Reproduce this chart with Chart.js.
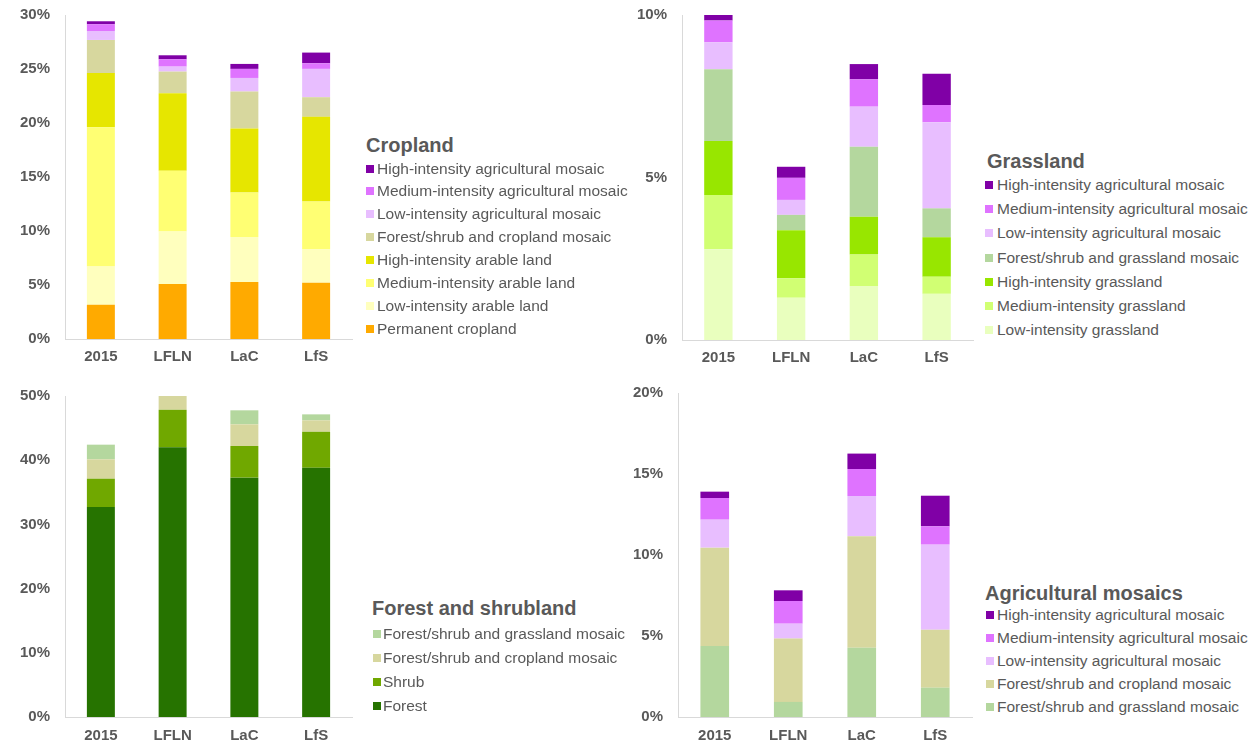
<!DOCTYPE html>
<html>
<head>
<meta charset="utf-8">
<script src="https://cdn.jsdelivr.net/npm/chart.js@4"></script>
<style>
  html, body { margin: 0; padding: 0; background: #ffffff; }
  #page { position: relative; width: 1254px; height: 744px; overflow: hidden; font-family: "Liberation Sans", Arial, sans-serif; }
  .panel { position: absolute; }
  .legend { position: absolute; color: #595959; }
  .legend .title { position: absolute; font-weight: bold; font-size: 20px; white-space: nowrap; line-height: 24px; }
  .legend .item { position: absolute; font-size: 15.5px; white-space: nowrap; line-height: 20px; }
  .legend .box { position: absolute; width: 8px; height: 8px; }
</style>
</head>
<body>
<div id="page">
  <canvas id="cropChart" class="panel" width="360" height="372" style="left:0;top:0;"></canvas>
  <canvas id="grassChart" class="panel" width="360" height="373" style="left:617px;top:0;"></canvas>
  <canvas id="forestChart" class="panel" width="360" height="364" style="left:0;top:380px;"></canvas>
  <canvas id="mosaicChart" class="panel" width="360" height="364" style="left:613px;top:380px;"></canvas>
  <div id="cropLegend" class="legend"></div>
  <div id="grassLegend" class="legend"></div>
  <div id="forestLegend" class="legend"></div>
  <div id="mosaicLegend" class="legend"></div>
</div>
<script>
// Scenario categories shared by all four panels
const categories = ['2015', 'LFLN', 'LaC', 'LfS'];

// Cropland shares (% of area), bottom to top of each stack
const cropPermanent      = [3.18, 5.09, 5.27, 5.21];
const cropLowArable      = [3.54, 4.87, 4.17, 3.12];
const cropMediumArable   = [12.89, 5.61, 4.13, 4.41];
const cropHighArable     = [5.03, 7.19, 5.92, 7.83];
const cropForestCropMos  = [3.05, 2.00, 3.42, 1.82];
const cropLowAgMosaic    = [0.83, 0.46, 1.26, 2.62];
const cropMediumAgMosaic = [0.62, 0.68, 0.84, 0.52];
const cropHighAgMosaic   = [0.28, 0.37, 0.46, 0.99];
const cropTicks = { max: 30, step: 5 };

// Grassland shares (%)
const grassLow            = [2.79, 1.30, 1.66, 1.42];
const grassMedium         = [1.67, 0.60, 0.97, 0.53];
const grassHigh           = [1.66, 1.48, 1.16, 1.21];
const grassForestGrassMos = [2.21, 0.47, 2.16, 0.89];
const grassLowAgMosaic    = [0.83, 0.46, 1.23, 2.65];
const grassMediumAgMosaic = [0.67, 0.68, 0.84, 0.53];
const grassHighAgMosaic   = [0.17, 0.34, 0.47, 0.96];
const grassTicks = { max: 10, step: 5 };

// Forest and shrubland shares (%)
const forestForest         = [32.71, 42.00, 37.28, 38.84];
const forestShrub          = [4.41, 5.87, 4.93, 5.60];
const forestForestCropMos  = [3.02, 2.13, 3.38, 1.77];
const forestForestGrassMos = [2.28, 0.00, 2.18, 0.93];
const forestTicks = { max: 50, step: 10 };

// Agricultural mosaic shares (%)
const mosaicForestGrass = [4.38, 0.93, 4.28, 1.81];
const mosaicForestCrop  = [6.07, 3.91, 6.87, 3.58];
const mosaicLowAg       = [1.73, 0.92, 2.49, 5.25];
const mosaicMediumAg    = [1.34, 1.40, 1.67, 1.13];
const mosaicHighAg      = [0.39, 0.66, 0.95, 1.89];
const mosaicTicks = { max: 20, step: 5 };

// Land-cover palette
const C = {
  highAg: '#8000a6',
  mediumAg: '#df73ff',
  lowAg: '#e8beff',
  forestCrop: '#d7d79e',
  forestGrass: '#b4d79e',
  highArable: '#e6e600',
  mediumArable: '#ffff73',
  lowArable: '#ffffbe',
  permanent: '#ffaa00',
  highGrass: '#98e600',
  mediumGrass: '#d1ff73',
  lowGrass: '#e9ffbe',
  shrub: '#70a800',
  forest: '#267300'
};

const TEXT = '#595959';
const AXIS = '#d9d9d9';
const FONT = '"Liberation Sans", Arial, sans-serif';

function ds(label, data, color) {
  return { label, data, backgroundColor: color, borderWidth: 0,
           barPercentage: 0.39, categoryPercentage: 1 };
}

function makeChart(id, datasets, ticksCfg, padding, xHeight, xPad) {
  return new Chart(document.getElementById(id), {
    type: 'bar',
    data: { labels: categories, datasets },
    options: {
      responsive: false,
      animation: false,
      devicePixelRatio: 1,
      layout: { padding },
      plugins: { legend: { display: false }, tooltip: { enabled: false } },
      scales: {
        x: {
          stacked: true,
          grid: { display: false, drawTicks: false },
          border: { display: true, color: AXIS, width: 1 },
          ticks: { color: TEXT, padding: xPad, font: { family: FONT, size: 15, weight: 'bold' } },
          afterFit: s => { s.height = xHeight; s.paddingLeft = 0; s.paddingRight = 0; }
        },
        y: {
          stacked: true,
          min: 0,
          max: ticksCfg.max,
          grid: { display: false, drawTicks: false },
          border: { display: true, color: AXIS, width: 1 },
          ticks: {
            stepSize: ticksCfg.step,
            padding: 15,
            color: TEXT,
            font: { family: FONT, size: 15, weight: 'bold' },
            callback: v => v + '%'
          },
          afterFit: s => { s.width = 65; s.paddingTop = 0; s.paddingBottom = 0; }
        }
      }
    }
  });
}

// Legend built from the chart's own datasets, listed top of stack first
function buildLegend(chart, elId, title, pos) {
  const el = document.getElementById(elId);
  const t = document.createElement('div');
  t.className = 'title';
  t.textContent = title;
  t.style.left = pos.titleX + 'px';
  t.style.top = (pos.titleY - 12) + 'px';
  el.appendChild(t);
  const items = chart.data.datasets.slice().reverse();
  items.forEach((d, i) => {
    const cy = pos.firstY + i * pos.pitch;
    const b = document.createElement('div');
    b.className = 'box';
    b.style.background = d.backgroundColor;
    b.style.left = pos.boxX + 'px';
    b.style.top = (cy - 4) + 'px';
    el.appendChild(b);
    const s = document.createElement('div');
    s.className = 'item';
    s.textContent = d.label;
    s.style.left = pos.textX + 'px';
    s.style.top = (cy - 10) + 'px';
    el.appendChild(s);
  });
}

const cropChart = makeChart('cropChart', [
  ds('Permanent cropland', cropPermanent, C.permanent),
  ds('Low-intensity arable land', cropLowArable, C.lowArable),
  ds('Medium-intensity arable land', cropMediumArable, C.mediumArable),
  ds('High-intensity arable land', cropHighArable, C.highArable),
  ds('Forest/shrub and cropland mosaic', cropForestCropMos, C.forestCrop),
  ds('Low-intensity agricultural mosaic', cropLowAgMosaic, C.lowAg),
  ds('Medium-intensity agricultural mosaic', cropMediumAgMosaic, C.mediumAg),
  ds('High-intensity agricultural mosaic', cropHighAgMosaic, C.highAg)
], cropTicks, { top: 15, right: 8, left: 0, bottom: 0 }, 33, 9);

const grassChart = makeChart('grassChart', [
  ds('Low-intensity grassland', grassLow, C.lowGrass),
  ds('Medium-intensity grassland', grassMedium, C.mediumGrass),
  ds('High-intensity grassland', grassHigh, C.highGrass),
  ds('Forest/shrub and grassland mosaic', grassForestGrassMos, C.forestGrass),
  ds('Low-intensity agricultural mosaic', grassLowAgMosaic, C.lowAg),
  ds('Medium-intensity agricultural mosaic', grassMediumAgMosaic, C.mediumAg),
  ds('High-intensity agricultural mosaic', grassHighAgMosaic, C.highAg)
], grassTicks, { top: 15, right: 4, left: 0, bottom: 0 }, 33, 9);

const forestChart = makeChart('forestChart', [
  ds('Forest', forestForest, C.forest),
  ds('Shrub', forestShrub, C.shrub),
  ds('Forest/shrub and cropland mosaic', forestForestCropMos, C.forestCrop),
  ds('Forest/shrub and grassland mosaic', forestForestGrassMos, C.forestGrass)
], forestTicks, { top: 16, right: 8, left: 0, bottom: 0 }, 27, 10);

const mosaicChart = makeChart('mosaicChart', [
  ds('Forest/shrub and grassland mosaic', mosaicForestGrass, C.forestGrass),
  ds('Forest/shrub and cropland mosaic', mosaicForestCrop, C.forestCrop),
  ds('Low-intensity agricultural mosaic', mosaicLowAg, C.lowAg),
  ds('Medium-intensity agricultural mosaic', mosaicMediumAg, C.mediumAg),
  ds('High-intensity agricultural mosaic', mosaicHighAg, C.highAg)
], mosaicTicks, { top: 13, right: 1, left: 0, bottom: 0 }, 27, 10);

buildLegend(cropChart, 'cropLegend', 'Cropland',
  { titleX: 366, titleY: 145, boxX: 366, textX: 377, firstY: 168.5, pitch: 22.86 });
buildLegend(grassChart, 'grassLegend', 'Grassland',
  { titleX: 987, titleY: 160.5, boxX: 985, textX: 997, firstY: 185, pitch: 24.2 });
buildLegend(forestChart, 'forestLegend', 'Forest and shrubland',
  { titleX: 372, titleY: 608, boxX: 373, textX: 383, firstY: 634, pitch: 23.9 });
buildLegend(mosaicChart, 'mosaicLegend', 'Agricultural mosaics',
  { titleX: 985, titleY: 593, boxX: 986, textX: 997, firstY: 615, pitch: 22.9 });
</script>
</body>
</html>
